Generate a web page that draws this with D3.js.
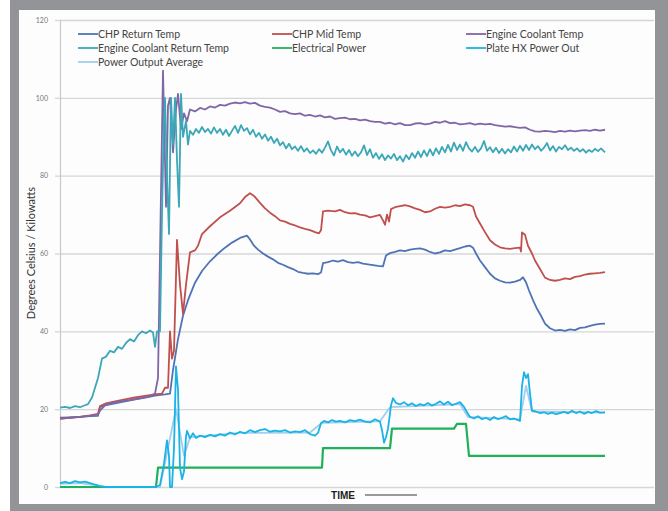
<!DOCTYPE html>
<html>
<head>
<meta charset="utf-8">
<script src="https://cdn.jsdelivr.net/npm/d3@7"></script>
<style>
  body { margin: 0; background: #fff; }
  text { font-family: Lato, "Open Sans", sans-serif; }
</style>
</head>
<body>
<div id="chart-container"></div>
<script>
// CHP TEMPERATURE / POWER CHART //
// time is in minutes from the start of the log, values in degC or kW

const seriesNames = [
    "CHP Return Temp", "CHP Mid Temp", "Engine Coolant Temp",
    "Engine Coolant Return Temp", "Electrical Power", "Plate HX Power Out",
    "Power Output Average"
];
const seriesColors = ["#4f74b6", "#c0504d", "#7f66a6", "#3ba7b7", "#21b05a", "#19b3e6", "#a2cdee"];

const yTicks = [0, 20, 40, 60, 80, 100, 120];

// CHP Return Temp [minute, degC]
const chpReturn = [
    [0, 17.8], [10, 17.9], [20, 18], [30, 18.2], [38, 18.3], [40, 20.5], [45, 21], [55, 21.5],
    [65, 22], [75, 22.5], [85, 23], [95, 23.5], [105, 23.8], [110, 24], [113, 30], [118, 38],
    [123, 44], [128, 48], [135, 52.5], [142, 55.5], [150, 58], [158, 60], [165, 61.5], [172, 62.8],
    [180, 64], [187, 64.6], [190, 63.6], [194, 62], [198, 61], [203, 60], [208, 59.2], [213, 58.5],
    [218, 57.6], [223, 57.1], [228, 56.5], [233, 56], [238, 55.3], [243, 55], [248, 54.8], [253, 54.9],
    [258, 54.7], [261, 55.1], [263, 57.5], [268, 57.8], [273, 58.2], [278, 57.9], [283, 58.3], [288, 57.8],
    [293, 57.6], [298, 57.8], [303, 57.4], [308, 57.2], [313, 57], [318, 56.8], [323, 56.7], [326, 59.5],
    [330, 60.1], [335, 60.4], [340, 60.8], [345, 60.6], [350, 61], [355, 61.2], [360, 61.3], [365, 61],
    [370, 60.4], [375, 60], [380, 60.3], [385, 60.8], [390, 60.6], [395, 61], [400, 61.4], [405, 61.8],
    [410, 62], [413, 61.5], [416, 60], [420, 58.2], [425, 56.5], [430, 54.8], [435, 53.6], [440, 53],
    [445, 52.6], [450, 52.5], [455, 52.8], [460, 53.2], [463, 53.9], [466, 52.6], [469, 50.5], [473, 48],
    [477, 45.8], [481, 44], [485, 42], [490, 40.8], [495, 40.2], [500, 40.4], [505, 40.1], [510, 40.5],
    [515, 40.3], [520, 40.9], [525, 41], [530, 41.4], [535, 41.7], [540, 41.9], [545, 42]
];

// CHP Mid Temp [minute, degC]
const chpMid = [
    [0, 17.6], [10, 17.8], [20, 18], [30, 18.4], [38, 18.8], [40, 20.8], [45, 21.4], [55, 22],
    [65, 22.5], [75, 23], [85, 23.4], [95, 23.8], [102, 24], [105, 25.5], [108, 25.5], [110, 40],
    [112, 33], [114, 35], [117, 63.5], [120, 52], [123, 44.5], [126, 52], [130, 60.3], [135, 60.8],
    [138, 62], [142, 65], [150, 67], [160, 69.3], [170, 71], [180, 72.9], [185, 74.5], [190, 75.5],
    [194, 74.8], [200, 73], [205, 71.6], [210, 70.5], [215, 69.6], [220, 68.5], [225, 68.2], [230, 67.6],
    [235, 67.2], [240, 66.7], [245, 66.3], [250, 66], [255, 65.5], [259, 65.2], [261, 66], [263, 70.8],
    [268, 71], [275, 70.8], [280, 71.2], [285, 70.6], [290, 70.3], [295, 70.4], [300, 70], [305, 69.8],
    [310, 69.3], [315, 69.6], [320, 69.9], [323, 68.5], [325, 67.4], [327, 70], [329, 68.2], [331, 71.4],
    [335, 71.9], [340, 72.2], [345, 72.4], [350, 72.1], [355, 71.6], [360, 71.2], [365, 70.6], [370, 70.8],
    [375, 71.5], [380, 72], [385, 71.8], [390, 72], [395, 72.4], [400, 72.2], [405, 72.6], [410, 72.4],
    [413, 72], [416, 69.5], [420, 67.7], [425, 65.5], [430, 63.4], [435, 62.3], [440, 61.6], [445, 61.3],
    [450, 61.2], [455, 61.4], [460, 61.5], [461, 60.5], [462, 65.4], [465, 64.8], [468, 62], [472, 60],
    [475, 58.2], [480, 56], [485, 53.8], [490, 53.2], [495, 53], [500, 53.2], [505, 53.6], [510, 53.4],
    [515, 54], [520, 54.2], [525, 54.6], [530, 54.8], [535, 54.9], [540, 55], [545, 55.2]
];

// Engine Coolant Temp [minute, degC]
const engineCoolant = [
    [0, 17.5], [10, 17.8], [20, 18], [30, 18.3], [38, 18.6], [40, 19.6], [45, 21], [50, 21.5],
    [60, 22], [70, 22.3], [80, 22.8], [90, 23.3], [95, 24], [98, 28], [100, 60], [103, 107],
    [106, 72], [108, 98], [110, 100], [113, 86], [116, 97], [118, 101], [121, 92], [124, 96],
    [127, 94], [130, 97], [135, 96.5], [140, 97.4], [145, 97], [150, 97.8], [155, 97.5], [160, 98.2],
    [165, 98], [170, 98.5], [175, 98.8], [180, 98.6], [185, 98.9], [190, 98.5], [195, 98.7], [200, 98],
    [205, 97.7], [210, 97.5], [215, 97], [220, 96.4], [225, 96.6], [230, 96], [235, 95.8], [240, 96],
    [245, 95.4], [250, 95.6], [255, 95.2], [260, 95.5], [265, 95], [270, 95.2], [275, 94.6], [280, 94.8],
    [285, 94.9], [290, 94.5], [295, 94.6], [300, 94.2], [305, 94.4], [310, 94], [315, 93.8], [320, 93.8],
    [325, 93.4], [330, 93.6], [335, 93.2], [340, 93.5], [345, 93], [350, 93], [355, 93.4], [360, 93.5],
    [365, 93.2], [370, 93.4], [375, 93.8], [380, 93.6], [385, 94], [390, 93.5], [395, 93.6], [400, 93.2],
    [405, 93.3], [410, 93.5], [415, 93.1], [420, 93.4], [425, 93.2], [430, 93.3], [435, 93], [440, 92.8],
    [445, 92.6], [450, 92.7], [455, 92.5], [460, 92.3], [465, 92.4], [470, 91.8], [475, 91.4], [480, 91.3],
    [485, 91.5], [490, 91.4], [495, 91.2], [500, 91.5], [505, 91.3], [510, 91.6], [515, 91.4], [520, 91.6],
    [525, 91.7], [530, 91.5], [535, 91.8], [540, 91.6], [545, 91.8]
];

// Engine Coolant Return Temp [minute, degC]
const engineCoolantReturn = [
    [0, 20.4], [5, 20.6], [10, 20.3], [15, 20.8], [20, 20.5], [25, 21], [28, 21.3], [32, 23],
    [38, 28], [42, 33], [46, 33.5], [50, 35], [54, 34.6], [58, 36], [62, 35.5], [66, 37],
    [70, 38], [74, 37.4], [78, 39], [82, 40], [86, 39.5], [90, 40.2], [93, 39.7], [95, 36],
    [97, 40], [100, 40], [102, 70], [104, 95], [105, 100], [107, 80], [109, 65], [111, 100],
    [113, 88], [115, 100], [117, 84], [119, 72], [121, 101], [123, 90], [126, 94], [128, 88],
    [130, 91.5], [133, 90.5], [136, 92], [139, 91], [142, 92.5], [145, 91.2], [148, 92], [151, 90.8],
    [154, 92.4], [157, 91], [160, 92], [163, 90.5], [166, 91.8], [169, 90.2], [172, 91.5], [175, 92.8],
    [178, 91], [181, 93], [184, 91.5], [187, 92.2], [190, 90.6], [193, 91.8], [196, 90], [199, 91],
    [202, 89.5], [205, 90.6], [208, 89], [211, 90], [214, 88.4], [217, 89.5], [220, 87.8], [223, 88.6],
    [226, 87], [229, 88.2], [232, 86.8], [235, 87.5], [238, 86.4], [241, 87.6], [244, 86.2], [247, 87],
    [250, 85.8], [253, 86.5], [256, 85.6], [259, 86.8], [262, 85.9], [265, 87.2], [268, 88.8], [271, 86.5],
    [274, 85.2], [277, 87.5], [280, 86], [283, 86.9], [286, 85.4], [289, 86.6], [292, 85.1], [295, 86.2],
    [298, 85], [301, 86], [304, 87.8], [307, 85.3], [310, 86.8], [313, 84.6], [316, 85.8], [319, 84.3],
    [322, 85.5], [325, 84], [328, 85.2], [331, 84.4], [334, 85.6], [337, 84], [340, 85], [343, 83.6],
    [346, 85.3], [349, 84.2], [352, 85.8], [355, 84.6], [358, 86.2], [361, 84.8], [364, 86.5], [367, 85],
    [370, 86.8], [373, 85.2], [376, 87], [379, 85.6], [382, 87.4], [385, 86], [388, 87.9], [391, 86.2],
    [394, 88.5], [397, 86.6], [400, 88], [403, 86.4], [406, 88.6], [409, 87], [412, 86.2], [415, 87.4],
    [418, 86.1], [421, 87], [424, 88.9], [427, 86.4], [430, 87.3], [433, 86], [436, 87.2], [439, 85.8],
    [442, 86.9], [445, 85.7], [448, 86.8], [451, 86], [454, 87.5], [457, 86.2], [460, 87.7], [463, 86.4],
    [466, 87.9], [469, 86.6], [472, 88], [475, 86.8], [478, 87.6], [481, 86.4], [484, 87.2], [487, 88.4],
    [490, 86.5], [493, 87.6], [496, 86.2], [499, 87.4], [502, 86.8], [505, 87.8], [508, 86.6], [511, 87.2],
    [514, 86.4], [517, 87], [520, 86.2], [523, 86.8], [526, 85.9], [529, 86.6], [532, 86.1], [535, 86.9],
    [538, 86.3], [541, 87], [545, 86]
];

// Electrical Power [minute, kW]
const electricalPower = [
    [0, 0], [96, 0], [98, 5], [262, 5], [263, 10], [330, 10], [332, 15], [394, 15],
    [397, 16.2], [406, 16.2], [409, 8], [545, 8]
];

// Plate HX Power Out [minute, kW]
const plateHx = [
    [0, 1], [5, 1.3], [10, 1], [15, 1.5], [20, 1.2], [25, 1.4], [30, 1], [35, 0.6],
    [40, 0.2], [45, 0], [96, 0], [100, 0.5], [104, 6], [107, 12], [109, 8], [110, 0],
    [112, 0], [114, 10], [116, 31], [118, 25], [120, 5], [122, 2], [124, 4], [126, 13],
    [127, 14.4], [130, 12.5], [133, 13.8], [136, 12.6], [140, 13.2], [145, 12.8], [150, 13.4], [155, 13],
    [160, 13.6], [165, 13.2], [170, 14], [175, 13.5], [180, 14.2], [185, 13.8], [190, 14.6], [195, 14.1],
    [200, 14.6], [205, 14.9], [210, 14.2], [215, 14.5], [220, 14.3], [225, 14.6], [230, 14], [235, 14.3],
    [240, 14.1], [245, 14.6], [250, 13.6], [255, 13.2], [258, 13.9], [261, 16.4], [264, 17], [268, 16.6],
    [272, 17.2], [276, 16.8], [280, 17], [285, 16.6], [290, 17.2], [295, 16.9], [300, 17.3], [305, 16.8],
    [310, 16.6], [315, 17.4], [320, 16.8], [322, 14.6], [324, 11.4], [326, 12.8], [328, 15], [331, 21],
    [333, 22.8], [336, 21.6], [340, 21.2], [344, 21.8], [348, 21], [352, 21.5], [356, 20.8], [360, 21.3],
    [364, 21], [368, 21.6], [372, 20.9], [376, 21.4], [380, 22], [384, 21.2], [388, 21.9], [392, 21],
    [396, 21.4], [400, 21.8], [404, 20.6], [407, 19.2], [410, 18], [414, 17.6], [418, 18.2], [422, 17.4],
    [426, 17.8], [430, 17.2], [434, 18], [438, 17.4], [442, 17.8], [446, 18.2], [450, 17.4], [454, 17.6],
    [458, 17.2], [460, 17], [462, 26], [464, 29.5], [466, 28], [468, 29], [470, 24], [472, 19.6],
    [476, 19.4], [480, 19], [484, 19.2], [488, 18.8], [492, 19.1], [496, 18.7], [500, 19], [504, 19.3],
    [508, 18.9], [512, 19.6], [516, 19], [520, 19.4], [524, 18.8], [528, 19.3], [532, 19], [536, 19.5],
    [540, 19.1], [545, 19.2]
];

// Power Output Average [minute, kW]
const powerAverage = [
    [0, 0.8], [20, 1], [40, 0.3], [45, 0], [100, 0], [104, 5], [116, 20], [124, 8],
    [130, 12.8], [180, 13.9], [250, 14], [262, 16.5], [320, 16.9], [330, 20.5], [400, 21.3], [408, 18],
    [460, 17.4], [466, 26], [472, 19.4], [545, 19.1]
];

const allSeries = [chpReturn, chpMid, engineCoolant, engineCoolantReturn, electricalPower, plateHx, powerAverage];
const drawOrder = [6, 0, 1, 2, 3, 4, 5];

// set the dimensions of the page and the plot
const pageWidth = 668;
const pageHeight = 511;
const plot = { left: 60, right: 654, top: 20, bottom: 487 };

const svg = d3
    .select("#chart-container")
    .append("svg")
    .attr("width", pageWidth)
    .attr("height", pageHeight);

// grey frame and white panel
svg.append("rect")
    .attr("x", 10).attr("y", 0)
    .attr("width", pageWidth - 10).attr("height", pageHeight)
    .attr("fill", "#929497");

svg.append("rect")
    .attr("x", 19).attr("y", 10)
    .attr("width", 636).attr("height", 494)
    .attr("fill", "#fdfdfd");

const x = d3.scaleLinear()
    .domain([0, plot.right - plot.left])
    .range([plot.left, plot.right]);

const y = d3.scaleLinear()
    .domain([0, 120])
    .range([plot.bottom, plot.top]);

// gridlines
svg.append("g")
    .attr("transform", `translate(${plot.left},0)`)
    .call(d3.axisLeft(y).tickValues(yTicks).tickSize(-(plot.right - plot.left)).tickFormat(""))
    .call(g => g.select(".domain").remove())
    .call(g => g.selectAll("line").attr("stroke", "#d6d6d6").attr("stroke-width", 1.3));

// y axis with short outside ticks
svg.append("g")
    .attr("transform", `translate(${plot.left},0)`)
    .call(d3.axisLeft(y).tickValues(yTicks).tickSize(5).tickPadding(7))
    .call(g => g.select(".domain").attr("stroke", "#c8c8c8").attr("stroke-width", 1.2))
    .call(g => g.selectAll("line").attr("stroke", "#d6d6d6").attr("stroke-width", 1.3))
    .call(g => g.selectAll("text")
        .attr("fill", "#777")
        .style("font-size", "7px")
        .style("font-family", "Lato, sans-serif"));

// y axis title
svg.append("text")
    .attr("transform", `translate(35,253) rotate(-90)`)
    .attr("text-anchor", "middle")
    .attr("fill", "#333")
    .style("font-size", "11px")
    .text("Degrees Celsius / Kilowatts");

// x axis title with arrow line
svg.append("text")
    .attr("x", 343)
    .attr("y", 499)
    .attr("text-anchor", "middle")
    .attr("fill", "#222")
    .style("font-size", "10px")
    .style("font-weight", "bold")
    .style("font-family", "'Liberation Sans', Arial, sans-serif")
    .text("TIME");

svg.append("line")
    .attr("x1", 365).attr("x2", 417)
    .attr("y1", 495).attr("y2", 495)
    .attr("stroke", "#777")
    .attr("stroke-width", 1.5);

// series lines
const line = d3.line()
    .x(d => x(d[0]))
    .y(d => y(d[1]));

svg.append("g")
    .selectAll("path")
    .data(drawOrder)
    .join("path")
    .attr("d", i => line(allSeries[i]))
    .attr("fill", "none")
    .attr("stroke", i => seriesColors[i])
    .attr("stroke-width", i => (i === 4 ? 2.2 : 1.8))
    .attr("stroke-linejoin", "round");

// legend, three columns
const legendCols = [78, 272, 466];
const legendRows = [34, 48, 62];

const legend = svg.append("g")
    .selectAll("g")
    .data(seriesNames)
    .join("g")
    .attr("transform", (d, i) => `translate(${legendCols[i % 3]},${legendRows[Math.floor(i / 3)]})`);

legend.append("line")
    .attr("x1", 0).attr("x2", 20)
    .attr("stroke", (d, i) => seriesColors[i])
    .attr("stroke-width", 1.8);

legend.append("text")
    .attr("x", 20)
    .attr("dy", "0.35em")
    .attr("fill", "#444")
    .style("font-size", "10.5px")
    .text(d => d);
</script>
</body>
</html>
